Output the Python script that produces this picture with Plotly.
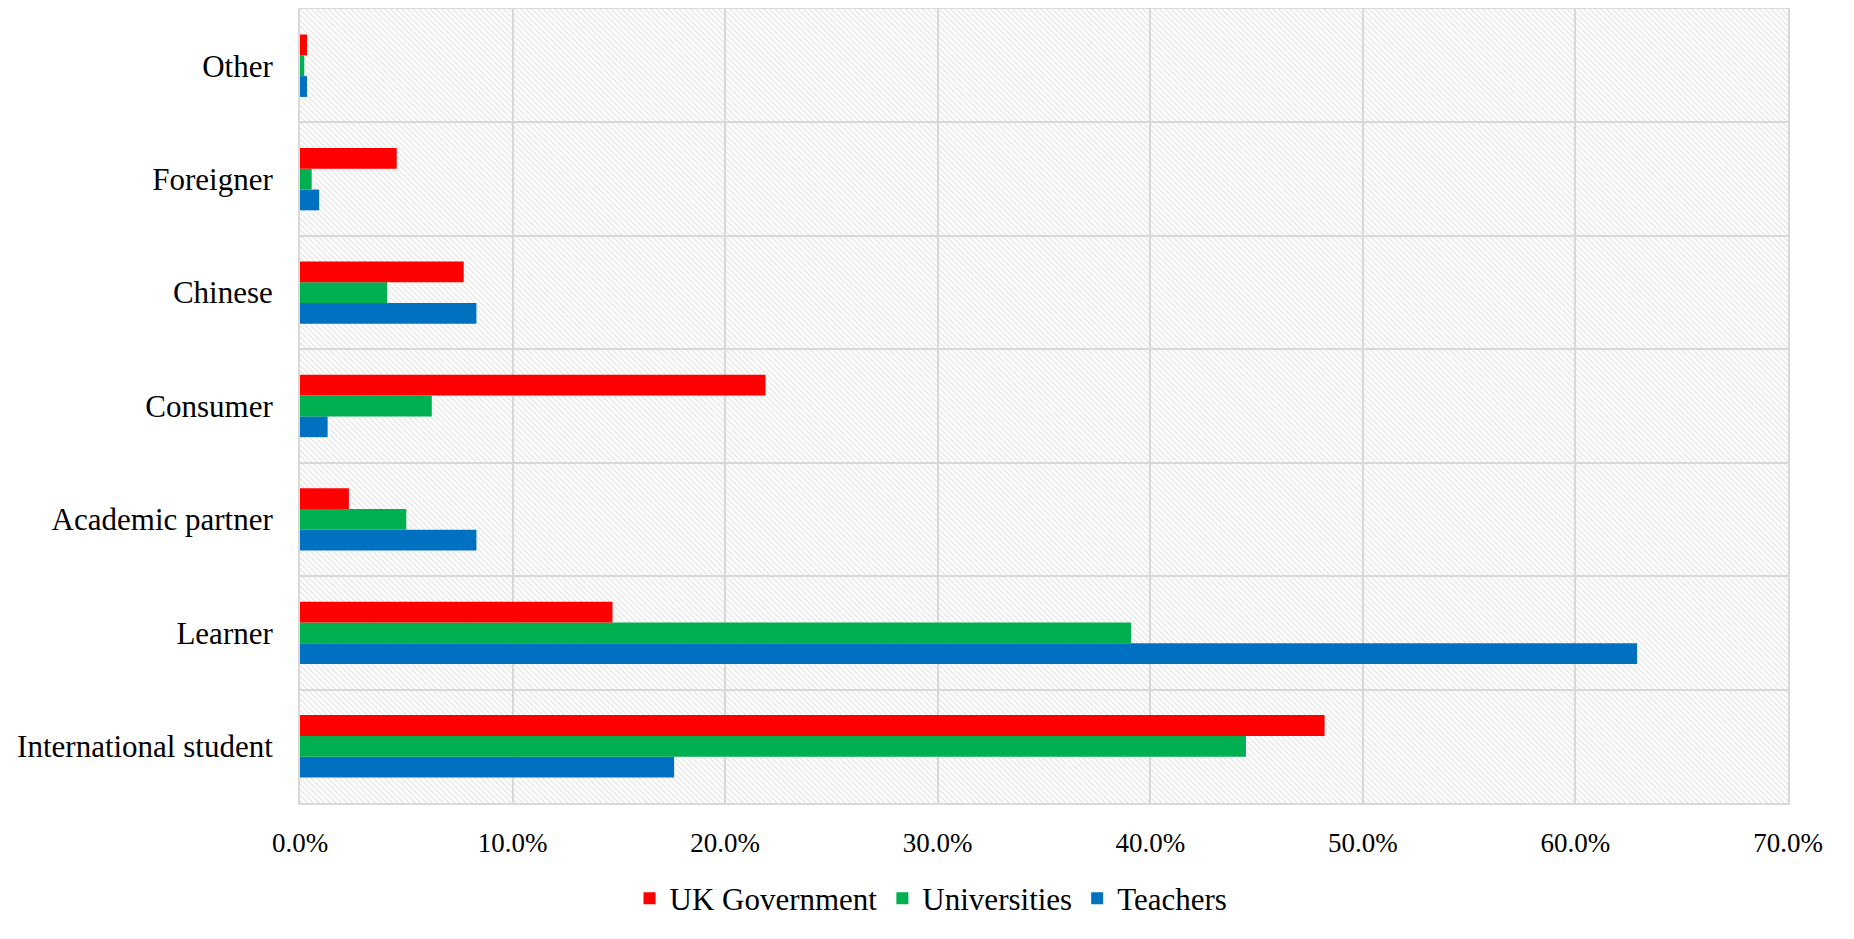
import plotly.graph_objects as go

categories = ["International student", "Learner", "Academic partner", "Consumer",
              "Chinese", "Foreigner", "Other"]
uk_government = [48.2, 14.7, 2.3, 21.9, 7.7, 4.55, 0.33]
universities = [44.5, 39.1, 5.0, 6.2, 4.1, 0.55, 0.2]
teachers = [17.6, 62.9, 8.3, 1.3, 8.3, 0.9, 0.33]

x_ticks = [0, 10, 20, 30, 40, 50, 60, 70]
x_tick_labels = [f"{v:.1f}%" for v in x_ticks]

FONT = "Liberation Serif, DejaVu Serif, serif"
GRID = "#d9d9d9"

fig = go.Figure()

# hatched plot-area background (base axes, unit square)
fig.add_trace(go.Scatter(
    x=[0, 1, 1, 0, 0], y=[0, 0, 1, 1, 0], xaxis="x", yaxis="y",
    mode="none", fill="toself", fillcolor="rgba(0,0,0,0)",
    fillpattern=dict(shape="\\", fgcolor="#d2d2d2", bgcolor="rgba(0,0,0,0)",
                     size=4, solidity=0.4),
    showlegend=False, hoverinfo="skip"))

series = [("Teachers", teachers, "#0070C0"),
          ("Universities", universities, "#00B050"),
          ("UK Government", uk_government, "#FF0000")]
for name, vals, col in series:
    fig.add_trace(go.Bar(
        y=categories, x=vals, name=name, orientation="h",
        xaxis="x2", yaxis="y2",
        marker=dict(color=col, line=dict(width=0))))

fig.update_layout(
    width=1846, height=923,
    paper_bgcolor="white", plot_bgcolor="white",
    margin=dict(l=292, r=66, t=1, b=128, autoexpand=False),
    font=dict(family=FONT, size=30, color="#000000"),
    barmode="group", bargap=0.45, bargroupgap=0,
    xaxis=dict(range=[0, 1], visible=False, fixedrange=True),
    yaxis=dict(range=[0, 1], visible=False, fixedrange=True),
    xaxis2=dict(overlaying="x", side="bottom", range=[0, 70],
                tickvals=x_ticks, ticktext=x_tick_labels,
                showgrid=True, gridcolor=GRID, gridwidth=2,
                showline=True, linecolor=GRID, linewidth=2, mirror=True,
                zeroline=False, ticks="", ticklabelstandoff=15, automargin=False,
                tickfont=dict(family=FONT, size=27)),
    yaxis2=dict(overlaying="y", side="left", type="category",
                categoryorder="array", categoryarray=categories,
                tickson="boundaries", showgrid=True, gridcolor=GRID, gridwidth=2,
                showline=True, linecolor=GRID, linewidth=2, mirror=True,
                ticks="", ticklabelstandoff=19, automargin=False,
                tickfont=dict(family=FONT, size=31)),
    legend=dict(orientation="h", xref="container", yref="container",
                x=0.5, xanchor="center", y=0.035, yanchor="middle",
                traceorder="reversed", font=dict(family=FONT, size=31),
                itemwidth=30),
)

fig.write_html("out.html")
